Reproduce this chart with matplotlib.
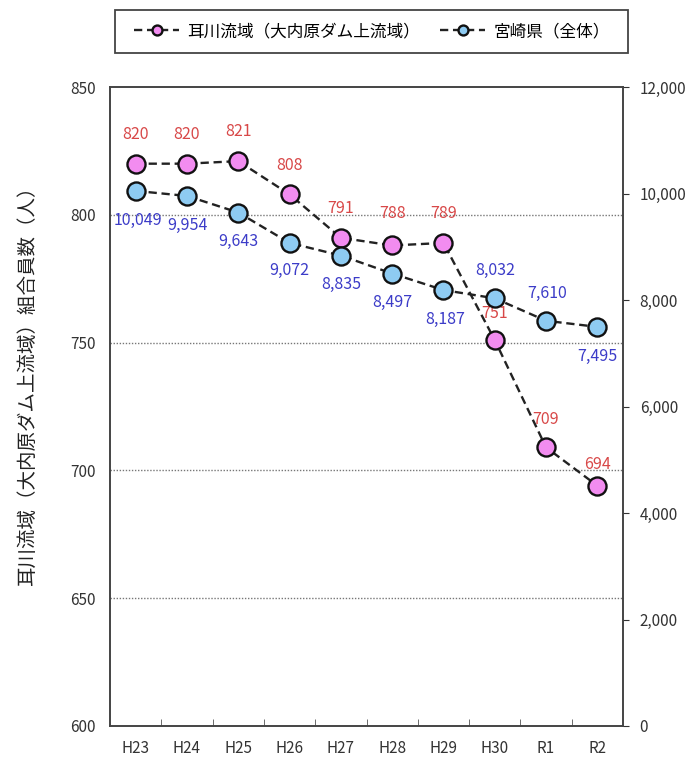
import matplotlib
matplotlib.use("Agg")
import matplotlib.pyplot as plt
from matplotlib.patches import Rectangle
from matplotlib.ticker import FixedLocator, FuncFormatter

plt.rcParams['font.family'] = ['Noto Sans CJK JP', 'DejaVu Sans']

years = ["H23", "H24", "H25", "H26", "H27", "H28", "H29", "H30", "R1", "R2"]
mimikawa = [820, 820, 821, 808, 791, 788, 789, 751, 709, 694]
miyazaki = [10049, 9954, 9643, 9072, 8835, 8497, 8187, 8032, 7610, 7495]

label_mimi = "耳川流域（大内原ダム上流域）"
label_miya = "宮崎県（全体）"
ylabel_left = "耳川流域（大内原ダム上流域）組合員数（人）"

# value-label offsets in points (dx, dy)
off_mimi = [(0, 21), (0, 21), (0, 21), (0, 21), (0, 21), (0, 23), (0, 21), (0, 19), (0, 20), (0, 15)]
off_miya = [(1.5, -21), (0, -21), (0, -21), (0, -20), (0, -21), (0, -21), (1, -21), (0, 20), (1, 20), (0, -21)]

W, H = 699, 760
fig = plt.figure(figsize=(W / 100, H / 100), dpi=100)
left, right, top, bottom = 110, 623, 87, 726
ax = fig.add_axes([left / W, 1 - bottom / H, (right - left) / W, (bottom - top) / H])
ax2 = ax.twinx()

x = list(range(len(years)))
red = "#d84848"
blue = "#3c3cc8"
dash = (0, (3.5, 2))

ax.plot(x, mimikawa, linestyle=dash, color="#222222", lw=1.7,
        marker="o", ms=13, mfc="#f28cf0", mec="#111111", mew=1.7, zorder=4,
        label=label_mimi)
ax2.plot(x, miyazaki, linestyle=dash, color="#222222", lw=1.7,
         marker="o", ms=13, mfc="#8ecbf2", mec="#111111", mew=1.7, zorder=4,
         label=label_miya)

for xi, v, o in zip(x, mimikawa, off_mimi):
    ax.annotate(f"{v:,}", (xi, v), xytext=o, textcoords="offset points",
                ha="center", va="center", color=red, fontsize=11.5, zorder=6)
for xi, v, o in zip(x, miyazaki, off_miya):
    ax2.annotate(f"{v:,}", (xi, v), xytext=o, textcoords="offset points",
                 ha="center", va="center", color=blue, fontsize=11.5, zorder=6)

ax.set_xlim(-0.5, len(years) - 0.5)
ax.set_ylim(600, 850)
ax2.set_ylim(0, 12000)

ax.set_yticks([600, 650, 700, 750, 800, 850])
ax.tick_params(axis="y", length=0, labelsize=11, pad=10, colors="#333333")
ax2.set_yticks(range(0, 12001, 2000))
ax2.yaxis.set_major_formatter(FuncFormatter(lambda v, p: f"{int(v):,}"))
ax2.tick_params(axis="y", length=4, direction="out", labelsize=11, pad=8,
                colors="#333333")

ax.set_xticks(x)
ax.set_xticklabels(years)
ax.tick_params(axis="x", which="major", length=0, labelsize=11, pad=10,
               colors="#333333")
ax.xaxis.set_minor_locator(FixedLocator([i + 0.5 for i in x[:-1]]))
ax.tick_params(axis="x", which="minor", length=5, direction="in", color="#555555")

for v in [650, 700, 750, 800]:
    ax.axhline(v, color="#777777", lw=1.0, ls=(0, (1, 1.2)), zorder=1)

for a in (ax, ax2):
    for s in a.spines.values():
        s.set_color("#444444")
        s.set_linewidth(1.2)

fig.text(27 / W, 1 - 381 / H, ylabel_left, rotation=90, ha="center", va="center",
         fontsize=14, color="#222222")

# legend with a separately drawn frame
h1, l1 = ax.get_legend_handles_labels()
h2, l2 = ax2.get_legend_handles_labels()
fig.legend(h1 + h2, l1 + l2, loc="center",
           bbox_to_anchor=(372 / W, 1 - 31.5 / H), ncol=2,
           fontsize=12, frameon=False,
           handlelength=2.7, handletextpad=0.5, columnspacing=1.2,
           markerscale=0.55)
fig.patches.append(Rectangle((115 / W, 1 - 53 / H), (628 - 115) / W, 43 / H,
                             transform=fig.transFigure, fill=False,
                             edgecolor="#444444", lw=1.3))

fig.savefig("out.png", dpi=100)
